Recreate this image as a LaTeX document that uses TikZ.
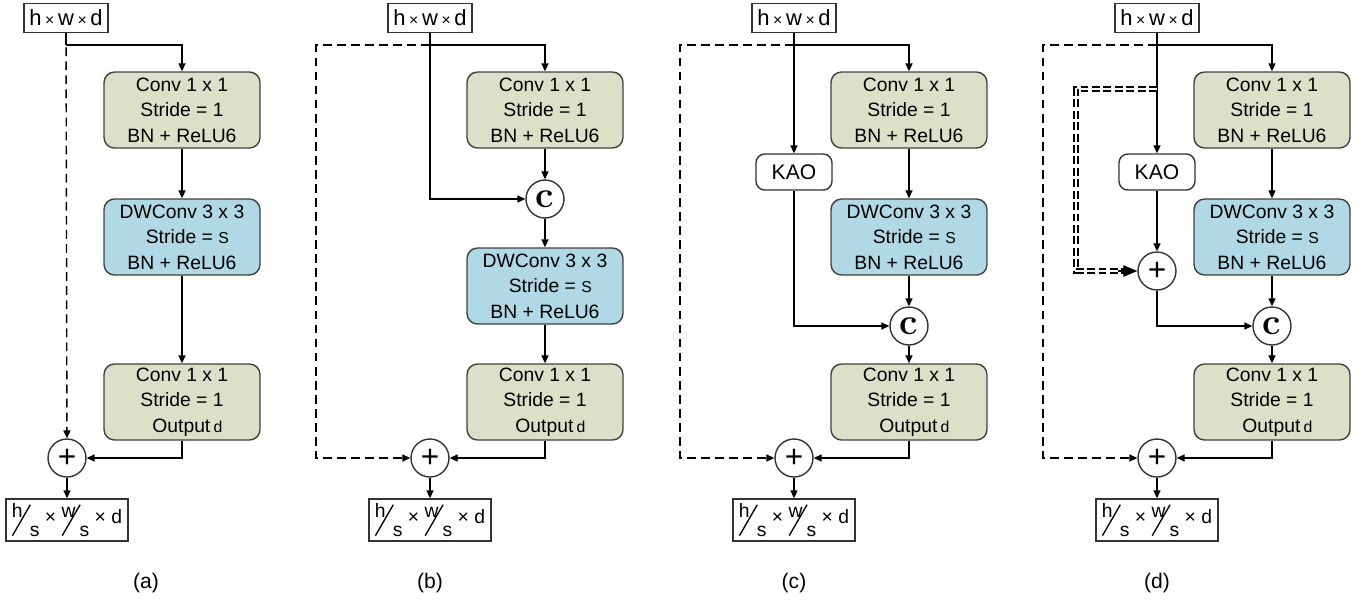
\documentclass[tikz,border=0pt]{standalone}
\usepackage{fontspec}
\setmainfont{Liberation Sans}
\newfontfamily\cfont{Latin Modern Roman}
\usepackage{graphicx}
\usepackage{xcolor}
\usetikzlibrary{arrows.meta}

\definecolor{convgreen}{RGB}{221,224,201}
\definecolor{dwblue}{RGB}{176,217,229}
\newcommand{\slfrac}[2]{\rlap{\raisebox{.3em}{#1}}\raisebox{-.64em}{\rotatebox{60}{\rule{1.85em}{.07em}}}\kern-.05em\raisebox{-.64em}{#2}}
\newcommand{\tms}{\,{\fontsize{9}{9}\selectfont ×}\,}
\newcommand{\fsz}{\fontsize{11}{14.5}\selectfont}

\tikzset{
  convbox/.style={draw=black!75, rounded corners=6pt, fill=convgreen, minimum width=3.12cm, minimum height=1.52cm, align=center, font=\fsz, inner sep=1pt},
  dwbox/.style={convbox, fill=dwblue},
  kaobox/.style={draw=black!80, rounded corners=5pt, minimum width=1.52cm, minimum height=0.72cm, font=\fontsize{12}{14}\selectfont},
  dimbox/.style={draw=black!80, minimum width=1.68cm, minimum height=0.58cm, inner sep=1pt, font=\fontsize{12.5}{15}\selectfont},
  outbox/.style={draw=black!80, minimum width=2.44cm, minimum height=0.84cm, inner sep=1pt, font=\fontsize{11}{13}\selectfont},
  opnode/.style={circle, draw=black!80, fill=white, minimum size=0.76cm, inner sep=0pt},
  addop/.style={opnode, font=\fontsize{18}{18}\selectfont},
  catop/.style={opnode, font=\fontsize{21}{21}\selectfont\cfont\bfseries},
  caption/.style={font=\fontsize{12}{14}\selectfont},
  arr/.style={-{Triangle[length=4.5pt,width=4pt]}},
  skipline/.style={arr, dash pattern=on 5pt off 3pt},
  dblskip/.style={double, double distance=1.4pt, dash pattern=on 4.5pt off 2pt, shorten >=7pt},
  bigarr/.style={-{Triangle[length=8pt,width=6.5pt]}}
}

\begin{document}
\begin{tikzpicture}[x=0.02cm, y=-0.02cm, line width=0.8pt]
\useasboundingbox (0,0) rectangle (1367,603);

\node[dimbox](inA) at (66,18) {h\tms w\tms d};
\node[convbox](c1A) at (182,110) {Conv 1 x 1\\Stride = 1\\BN + ReLU6};
\node[dwbox](dwA) at (182,237) {DWConv 3 x 3\\\ \ Stride = {\small S}\\BN + ReLU6};
\node[convbox](c3A) at (182,402) {Conv 1 x 1\\Stride = 1\\\ \ Output\,{\small d}};
\node[addop](plA) at (67,458) {+};
\node[outbox](outA) at (67,520) {\slfrac{h}{s} × \slfrac{w}{s} × d};
\node[caption](labA) at (146,583) {(a)};
\coordinate(jA) at (66,45);
\draw(inA)--(jA);
\draw[arr](jA)-|(c1A);
\draw[skipline](inA)--(plA);
\draw[arr](c1A)--(dwA);
\draw[arr](dwA)--(c3A);
\draw[arr](c3A.south)|-(plA);
\draw[arr](plA)--(outA);

\node[dimbox](inB) at (430,18) {h\tms w\tms d};
\node[convbox](c1B) at (545,110) {Conv 1 x 1\\Stride = 1\\BN + ReLU6};
\node[catop](ccB) at (545,199) {c};
\node[dwbox](dwB) at (545,286) {DWConv 3 x 3\\\ \ Stride = {\small S}\\BN + ReLU6};
\node[convbox](c3B) at (545,402) {Conv 1 x 1\\Stride = 1\\\ \ Output\,{\small d}};
\node[addop](plB) at (430,458) {+};
\node[outbox](outB) at (430,520) {\slfrac{h}{s} × \slfrac{w}{s} × d};
\node[caption](labB) at (430,583) {(b)};
\coordinate(jB) at (430,45);
\coordinate(kB) at (316,45);
\draw(inB)--(jB);
\draw[arr](jB)-|(c1B);
\draw[arr](jB)|-(ccB);
\draw[skipline](jB)--(kB)|-(plB);
\draw[arr](c1B)--(ccB);
\draw[arr](ccB)--(dwB);
\draw[arr](dwB)--(c3B);
\draw[arr](c3B.south)|-(plB);
\draw[arr](plB)--(outB);

\node[dimbox](inC) at (794,18) {h\tms w\tms d};
\node[convbox](c1C) at (909,110) {Conv 1 x 1\\Stride = 1\\BN + ReLU6};
\node[kaobox](kaoC) at (794,172) {KAO};
\node[dwbox](dwC) at (909,237) {DWConv 3 x 3\\\ \ Stride = {\small S}\\BN + ReLU6};
\node[catop](ccC) at (909,326) {c};
\node[convbox](c3C) at (909,402) {Conv 1 x 1\\Stride = 1\\\ \ Output\,{\small d}};
\node[addop](plC) at (794,458) {+};
\node[outbox](outC) at (794,520) {\slfrac{h}{s} × \slfrac{w}{s} × d};
\node[caption](labC) at (794,583) {(c)};
\coordinate(jC) at (794,45);
\coordinate(kC) at (680,45);
\draw(inC)--(jC);
\draw[arr](jC)-|(c1C);
\draw[arr](jC)--(kaoC);
\draw[skipline](jC)--(kC)|-(plC);
\draw[arr](c1C)--(dwC);
\draw[arr](dwC)--(ccC);
\draw[arr](kaoC)|-(ccC);
\draw[arr](ccC)--(c3C);
\draw[arr](c3C.south)|-(plC);
\draw[arr](plC)--(outC);

\node[dimbox](inD) at (1157,18) {h\tms w\tms d};
\node[convbox](c1D) at (1272,110) {Conv 1 x 1\\Stride = 1\\BN + ReLU6};
\node[kaobox](kaoD) at (1157,172) {KAO};
\node[dwbox](dwD) at (1272,237) {DWConv 3 x 3\\\ \ Stride = {\small S}\\BN + ReLU6};
\node[addop](pl2D) at (1157,271) {+};
\node[catop](ccD) at (1272,326) {c};
\node[convbox](c3D) at (1272,402) {Conv 1 x 1\\Stride = 1\\\ \ Output\,{\small d}};
\node[addop](plD) at (1157,458) {+};
\node[outbox](outD) at (1157,520) {\slfrac{h}{s} × \slfrac{w}{s} × d};
\node[caption](labD) at (1157,583) {(d)};
\coordinate(jD) at (1157,45);
\coordinate(kD) at (1043,45);
\coordinate(mD) at (1157,89);
\coordinate(nD) at (1076,89);
\coordinate(tD) at (1118,271);
\draw(inD)--(jD);
\draw[arr](jD)-|(c1D);
\draw[arr](jD)--(kaoD);
\draw[skipline](jD)--(kD)|-(plD);
\draw[dblskip](mD)--(nD)|-(pl2D);
\draw[bigarr](tD)--(pl2D);
\draw[arr](kaoD)--(pl2D);
\draw[arr](pl2D)|-(ccD);
\draw[arr](c1D)--(dwD);
\draw[arr](dwD)--(ccD);
\draw[arr](ccD)--(c3D);
\draw[arr](c3D.south)|-(plD);
\draw[arr](plD)--(outD);
\end{tikzpicture}
\end{document}
